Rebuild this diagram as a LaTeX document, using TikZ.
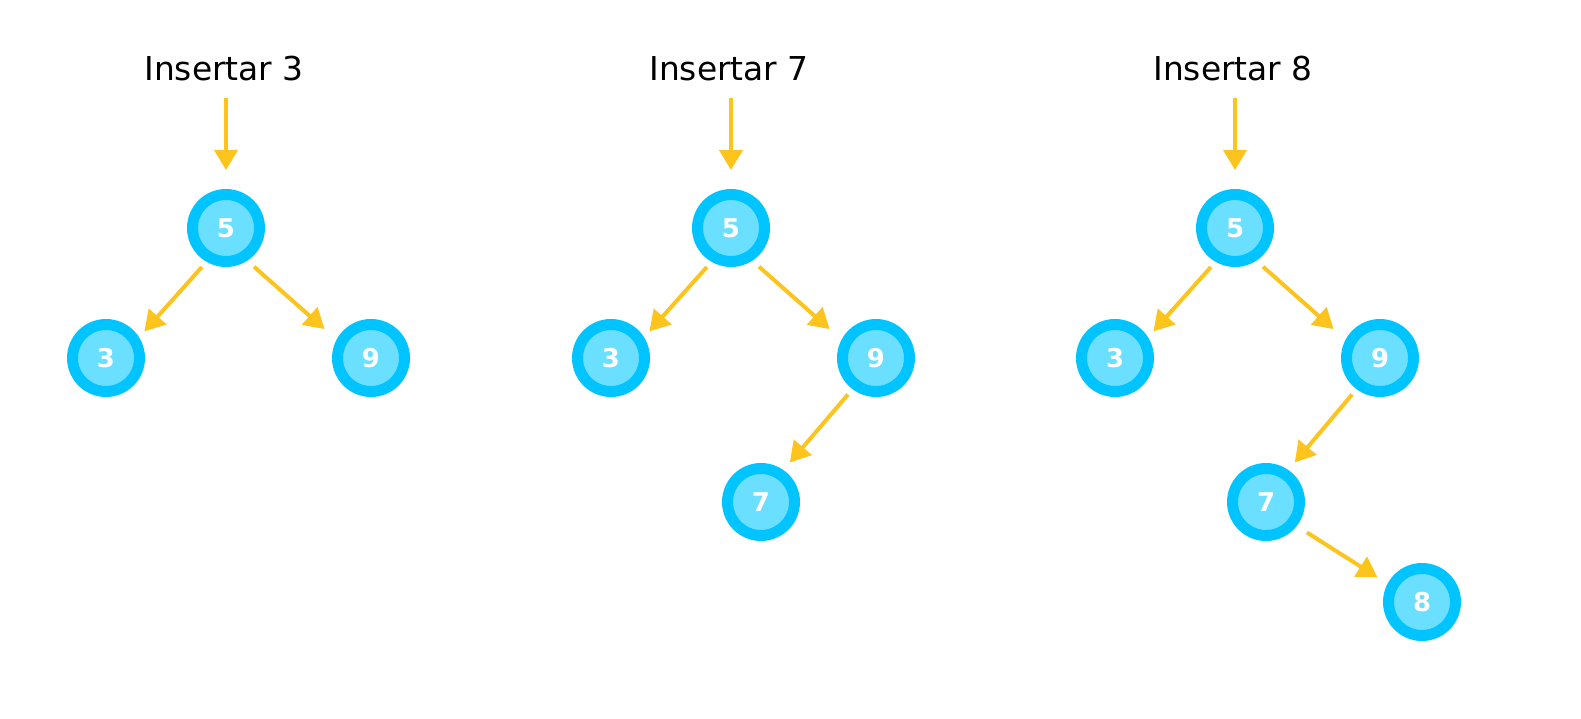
\documentclass[tikz,border=0pt]{standalone}
\usepackage{fontspec}
\setmainfont{DejaVu Sans}
\usetikzlibrary{arrows.meta}
\definecolor{ring}{HTML}{00C4FF}
\definecolor{relleno}{HTML}{6BDFFF}
\definecolor{amarillo}{HTML}{FDC41E}
\tikzset{
  nodo/.style={circle,draw=ring,line width=11bp,fill=relleno,minimum size=67bp,inner sep=0pt,
    text=white,font=\fontsize{26}{30}\selectfont\bfseries},
  flecha/.style={draw=amarillo,line width=4bp,-{Triangle[length=20bp,width=23bp]}},
  titulo/.style={font=\fontsize{33}{38}\selectfont}
}
\begin{document}
\begin{tikzpicture}[x=1bp,y=-1bp]
       \useasboundingbox (0,0) rectangle (1581,719);
       % arbol 1
       \node[titulo] (t1) at (224,69) {Insertar 3};
       \coordinate (i1) at (226,98);
       \node[nodo] (a5) at (226,228) {5};
       \node[nodo] (a3) at (106,358) {3};
       \node[nodo] (a9) at (371,358) {9};
       \draw[flecha,shorten >=19bp] (i1) -- (a5);
       \draw[flecha,shorten <=7bp,shorten >=8bp] (a5.240) -- (a3.32);
       \draw[flecha,shorten <=9bp,shorten >=16bp] (a5.303) -- (a9.152);
       % arbol 2
       \node[titulo] (t2) at (729,69) {Insertar 7};
       \coordinate (i2) at (731,98);
       \node[nodo] (b5) at (731,228) {5};
       \node[nodo] (b3) at (611,358) {3};
       \node[nodo] (b9) at (876,358) {9};
       \node[nodo] (b7) at (761,502) {7};
       \draw[flecha,shorten >=19bp] (i2) -- (b5);
       \draw[flecha,shorten <=7bp,shorten >=8bp] (b5.240) -- (b3.32);
       \draw[flecha,shorten <=9bp,shorten >=16bp] (b5.303) -- (b9.152);
       \draw[flecha,shorten <=7bp,shorten >=10bp] (b9.233) -- (b7.55);
       % arbol 3
       \node[titulo] (t3) at (1233,69) {Insertar 8};
       \coordinate (i3) at (1235,98);
       \node[nodo] (c5) at (1235,228) {5};
       \node[nodo] (c3) at (1115,358) {3};
       \node[nodo] (c9) at (1380,358) {9};
       \node[nodo] (c7) at (1266,502) {7};
       \node[nodo] (c8) at (1422,602) {8};
       \draw[flecha,shorten >=19bp] (i3) -- (c5);
       \draw[flecha,shorten <=7bp,shorten >=8bp] (c5.240) -- (c3.32);
       \draw[flecha,shorten <=9bp,shorten >=16bp] (c5.303) -- (c9.152);
       \draw[flecha,shorten <=7bp,shorten >=10bp] (c9.233) -- (c7.55);
       \draw[flecha,shorten <=12bp,shorten >=12bp] (c7.322) -- (c8.152);
\end{tikzpicture}
\end{document}
